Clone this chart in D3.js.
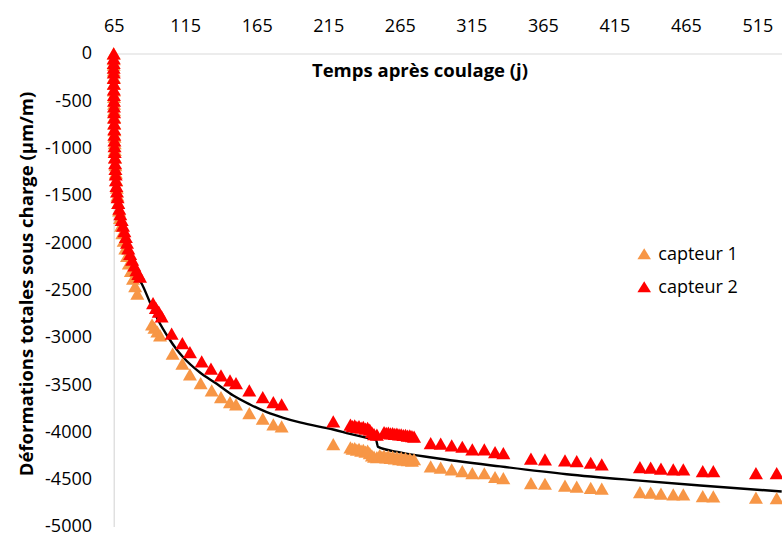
<!DOCTYPE html>
<html>
<head>
<meta charset="utf-8">
<script src="https://cdn.jsdelivr.net/npm/d3@7"></script>
<style>
  html, body { margin: 0; padding: 0; background: #fff; overflow: hidden; }
  svg { display: block; font-family: "Open Sans", sans-serif; }
</style>
</head>
<body>
<svg id="chart" width="782" height="535"></svg>
<script>
// ---- Data ----
const xTicks = [65, 115, 165, 215, 265, 315, 365, 415, 465, 515];
const yTicks = [0, -500, -1000, -1500, -2000, -2500, -3000, -3500, -4000, -4500, -5000];

const seriesNames = ["capteur 1", "capteur 2"];

// capteur 1 (orange)
const c1Days = [
  65.0, 65.0, 65.0, 65.05, 65.1, 65.1, 65.15, 65.2, 65.25, 65.3, 65.35, 65.4, 65.5, 65.6, 65.7, 65.8,
  66.0, 66.2, 66.5, 66.8, 67.2, 67.6, 68.1, 68.7, 69.4, 70.2, 71.0, 72.0, 73.1, 74.3, 75.6, 77.0,
  78.5, 80.0, 81.5,
  91.8, 93.5, 95.5, 97.4,
  106.2, 113.0, 118.3, 125.8, 133.5, 140.0, 146.3, 150.5, 159.8, 169.2, 176.6, 182.4,
  218.5,
  230.5, 232, 233.5, 235, 236.5, 238, 239.5, 241, 242.5, 244, 245.5, 247, 249,
  251, 252.5, 254, 255.5, 257, 258.5, 260, 261.5, 263, 264.5, 266, 267.5, 269, 270.5, 272, 273.5, 275,
  286.6, 293.6, 301.3, 308.7, 315.7, 324.1, 331.6, 337.4,
  356.7, 366.5,
  380.5, 388.7, 398.5, 406.2,
  432.9, 440.4, 447.6, 456.2, 463.2,
  476.8, 484.2,
  514.0, 528.5
];
const c1Values = [
  0, -60, -120, -180, -250, -320, -390, -460, -530, -600, -670, -740, -810, -880, -950, -1020,
  -1100, -1180, -1260, -1340, -1420, -1500, -1580, -1660, -1740, -1820, -1900, -1980, -2060, -2140, -2220, -2300,
  -2380, -2460, -2540,
  -2865, -2900, -2940, -2980,
  -3174, -3280, -3393, -3485, -3562, -3633, -3686, -3710, -3802, -3861, -3921, -3943,
  -4130,
  -4165, -4178, -4172, -4188, -4180, -4198, -4190, -4210, -4200, -4225, -4250, -4262, -4268,
  -4245, -4262, -4252, -4270, -4258, -4276, -4263, -4282, -4268, -4288, -4273, -4295, -4278, -4300, -4284, -4306, -4290,
  -4365, -4379, -4397, -4415, -4436, -4438, -4478, -4490,
  -4542, -4549,
  -4570, -4580, -4593, -4601,
  -4637, -4643, -4654, -4661, -4661,
  -4681, -4683,
  -4695, -4702
];

// capteur 2 (red)
const c2Days = [
  65.0, 65.0, 65.0, 65.0, 65.05, 65.05, 65.1, 65.1, 65.15, 65.2, 65.2, 65.25, 65.3, 65.35, 65.4, 65.45,
  65.5, 65.6, 65.7, 65.85, 66.0, 66.2, 66.4, 66.6, 66.9, 67.3, 67.7, 68.2, 68.9, 69.6, 70.6, 71.5,
  72.5, 73.5, 74.3, 75.2, 76.5, 77.9, 79.4, 80.9, 82.2, 83.4,
  92.5, 94.5, 96.5, 98.5,
  105.5, 113.0, 118.3, 126.5, 133.0, 140.0, 146.3, 150.5, 159.8, 169.2, 176.6, 182.4,
  218.5,
  230.5, 232, 233.5, 235, 236.5, 238, 239.5, 241, 242.5, 244, 245.5, 247, 249,
  254, 255.5, 257, 258.5, 260, 261.5, 263, 264.5, 266, 267.5, 269, 270.5, 272, 273.5, 275,
  286.6, 293.6, 301.3, 308.7, 315.7, 324.1, 331.6, 337.4,
  356.7, 366.5,
  380.5, 388.7, 398.5, 406.2,
  432.9, 440.4, 447.6, 456.2, 463.2,
  476.8, 484.2,
  514.0, 528.5
];
const c2Values = [
  0, -50, -100, -150, -200, -260, -320, -380, -440, -500, -560, -620, -680, -740, -800, -860,
  -920, -980, -1040, -1100, -1160, -1220, -1280, -1340, -1400, -1460, -1520, -1580, -1640, -1700, -1760, -1820,
  -1880, -1940, -2000, -2060, -2120, -2180, -2240, -2290, -2330, -2360,
  -2640, -2690, -2730, -2780,
  -2963, -3062, -3157, -3256, -3333, -3404, -3457, -3485, -3563, -3633, -3686, -3710,
  -3890,
  -3925, -3940, -3932, -3948, -3940, -3956, -3948, -3966, -3958, -3978, -4005, -4025, -4030,
  -4003, -4010, -4008, -4016, -4014, -4022, -4020, -4028, -4026, -4034, -4032, -4040, -4038, -4046, -4050,
  -4119, -4126, -4144, -4158, -4186, -4186, -4214, -4225,
  -4284, -4291,
  -4302, -4309, -4327, -4344,
  -4373, -4379, -4390, -4397, -4397,
  -4415, -4415,
  -4436, -4436
];

// fitted model curve (black line)
const fitDays = [
  65, 65.2, 65.6, 66.4, 67.8, 70.3, 74, 78.5, 84.6, 90.4, 96.2, 103.2, 109.0, 113.7, 125.3, 137.0,
  148.6, 160.3, 172.0, 183.6, 195.2, 218.5, 230.2, 241.9, 248.4, 249.8, 265.2, 288.4, 335.1, 381.7,
  428.3, 475.1, 532.0
];
const fitValues = [
  0, -600, -1000, -1300, -1580, -1800, -2080, -2300, -2434, -2632, -2822, -3002, -3129, -3213, -3372, -3491,
  -3615, -3710, -3791, -3851, -3900, -3975, -4020, -4062, -4085, -4159, -4217, -4273, -4365, -4447,
  -4510, -4566, -4630
];

// ---- Chart ----
const svg = d3.select("#chart");
const x = d3.scaleLinear().domain([65, 565]).range([113.7, 828.9]);
const y = d3.scaleLinear().domain([0, -5000]).range([53.5, 526.5]);

const fontSize = 18;
const axisColor = "#d9d9d9";

// axes
const xAxis = d3.axisTop(x).tickValues(xTicks).tickSize(0).tickSizeOuter(0).tickPadding(21.5)
  .tickFormat(d => String(d));
const gx = svg.append("g").attr("transform", `translate(0,${y(0)})`).call(xAxis);
gx.select(".domain").attr("stroke", axisColor).attr("stroke-width", 1.2);
gx.selectAll("text").attr("font-size", fontSize).attr("fill", "#000").attr("font-family", "Open Sans");

const yAxis = d3.axisLeft(y).tickValues(yTicks).tickSize(0).tickSizeOuter(0).tickPadding(21.7)
  .tickFormat(d => String(d));
const gy = svg.append("g").attr("transform", `translate(${x(65)},0)`).call(yAxis);
gy.select(".domain").attr("stroke", axisColor).attr("stroke-width", 1.2);
gy.selectAll("text").attr("font-size", fontSize).attr("fill", "#000").attr("font-family", "Open Sans")
  .attr("dy", "0.3em");

// axis titles
svg.append("text")
  .attr("x", 420).attr("y", 77)
  .attr("text-anchor", "middle")
  .attr("font-size", 18.5).attr("font-weight", "bold")
  .text("Temps après coulage (j)");

svg.append("text")
  .attr("transform", "translate(25,284) rotate(-90)")
  .attr("text-anchor", "middle")
  .attr("dominant-baseline", "central")
  .attr("font-size", 18.5).attr("font-weight", "bold")
  .text("Déformations totales sous charge (µm/m)");

// fit line (drawn under markers)
const fitData = fitDays.map((d, i) => ({ d, v: fitValues[i] }));
svg.append("path")
  .datum(fitData)
  .attr("fill", "none")
  .attr("stroke", "#000")
  .attr("stroke-width", 2.4)
  .attr("d", d3.line().x(p => x(p.d)).y(p => y(p.v)).curve(d3.curveMonotoneX));

// markers
const tri = "M0,-6.2L7,6L-7,6Z";
const series = [
  { name: seriesNames[0], days: c1Days, values: c1Values, color: "#F79646" },
  { name: seriesNames[1], days: c2Days, values: c2Values, color: "#FF0000" }
];
series.forEach(s => {
  const pts = s.days.map((d, i) => ({ d, v: s.values[i] }));
  svg.append("g").selectAll("path").data(pts).join("path")
    .attr("d", tri)
    .attr("transform", p => `translate(${x(p.d)},${y(p.v)})`)
    .attr("fill", s.color);
});

// legend
const legend = svg.append("g");
series.forEach((s, i) => {
  const ly = 253.8 + i * 33;
  legend.append("path").attr("d", "M0,-5.5L6.8,5.5L-6.8,5.5Z")
    .attr("transform", `translate(644.2,${ly})`).attr("fill", s.color);
  legend.append("text").attr("x", 658.3).attr("y", ly + 5.8)
    .attr("font-size", fontSize).attr("fill", "#000").text(s.name);
});
</script>
</body>
</html>
